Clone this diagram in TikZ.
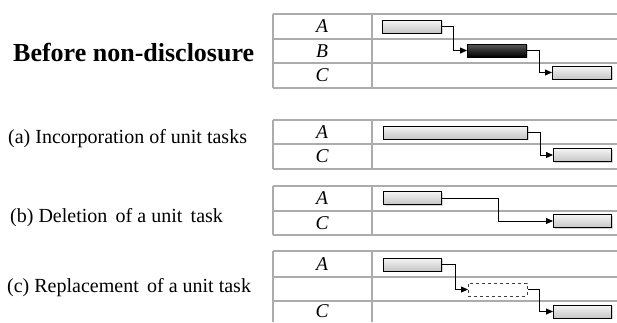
\documentclass[tikz,border=0pt]{standalone}
\usepackage{fontspec}
\setmainfont{Liberation Serif}
\usetikzlibrary{arrows.meta,shadows}

\begin{document}
\begin{tikzpicture}[x=1pt,y=-1pt,
  grid/.style={draw=gray!65,line width=1.4pt},
  task/.style={inner sep=0pt,font=\fontsize{19.5}{19.5}\selectfont\itshape},
  caption/.style={anchor=west,inner sep=0pt,font=\fontsize{20}{24}\selectfont},
  bar/.style={anchor=west,rectangle,inner sep=0pt,minimum height=13pt,
    minimum width=#1,draw=black,line width=1pt,top color=gray!8,bottom color=gray!45,
    drop shadow={opacity=0.35,shadow xshift=1pt,shadow yshift=-1pt}},
  critbar/.style={bar=#1,top color=gray!70!black,bottom color=black},
  ghostbar/.style={anchor=west,rectangle,inner sep=0pt,minimum height=13pt,
    minimum width=#1,draw=black!75,dashed,line width=0.8pt,fill=white},
  link/.style={draw=black,line width=0.8pt,-{Triangle[length=7pt,width=6pt]}}]
  \useasboundingbox (0,0) rectangle (617,322);
  % captions
  \node[caption,font=\fontsize{26}{30}\selectfont\bfseries] (t0) at (13,53) {Before non-disclosure};
  \node[caption] (ta) at (8,139) {(a) Incorporation of unit tasks};
  \node[caption] (tb) at (10,218) {(b) Deletion\, of a unit\, task};
  \node[caption] (tc) at (7,288) {(c) Replacement\, of a unit task};
  % tables
  \foreach \y in {14,39,63,88,120,144,169,186,211,235,251,277,301}
    \draw[grid] (273,\y) -- (617,\y);
  \foreach \top/\bot in {14/88,120/169,186/235,251/322} {
    \draw[grid] (273,\top) -- (273,\bot);
    \draw[grid] (372,\top) -- (372,\bot);
  }
  \node[task] (la0) at (322,26.5) {A};
  \node[task] (lb0) at (322,51) {B};
  \node[task] (lc0) at (322,75.5) {C};
  \node[task] (laa) at (322,132) {A};
  \node[task] (lca) at (322,156.5) {C};
  \node[task] (lab) at (322,198.5) {A};
  \node[task] (lcb) at (322,223) {C};
  \node[task] (lac) at (322,264) {A};
  \node[task] (lcc) at (322,311.5) {C};
  % before non-disclosure
  \node[bar=59pt] (a0) at (382,26.5) {};
  \node[critbar=59pt] (b0) at (467,50.5) {};
  \node[bar=59pt] (c0) at (552,72.5) {};
  \draw[link] (a0.east) -- ++(11,0) |- (b0.west);
  \draw[link] (b0.east) -- ++(12,0) |- (c0.west);
  % (a)
  \node[bar=144pt] (aa) at (383,132.5) {};
  \node[bar=58pt] (ca) at (553,155) {};
  \draw[link] (aa.east) -- ++(12,0) |- (ca.west);
  % (b)
  \node[bar=58pt] (ab) at (383,198) {};
  \node[bar=58pt] (cb) at (553,221) {};
  \draw[link] (ab.east) -- ++(56,0) |- (cb.west);
  % (c)
  \node[bar=58pt] (ac) at (383,264.5) {};
  \node[ghostbar=59pt] (bc) at (468,289.5) {};
  \node[bar=58pt] (cc) at (553,311.5) {};
  \draw[link] (ac.east) -- ++(13,0) |- (bc.west);
  \draw[link] (bc.east) -- ++(12,0) |- (cc.west);
\end{tikzpicture}
\end{document}
